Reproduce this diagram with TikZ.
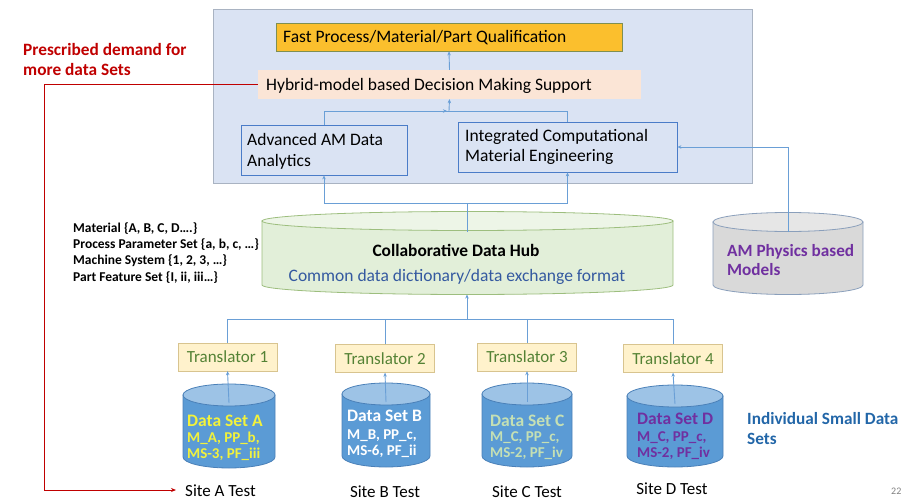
\documentclass[tikz,border=0pt]{standalone}
\usepackage{fontspec}
\setmainfont{Carlito}
\usetikzlibrary{arrows.meta}
\definecolor{bgblue}{HTML}{DAE3F3}
\definecolor{bgborder}{HTML}{A9B3C2}
\definecolor{conn}{HTML}{6A9FD6}
\definecolor{fastfill}{HTML}{FBBF2D}
\definecolor{fastborder}{HTML}{7F8F50}
\definecolor{hybfill}{HTML}{FBE5D6}
\definecolor{boxblue}{HTML}{4A7CC8}
\definecolor{trfill}{HTML}{FFF2CC}
\definecolor{trborder}{HTML}{D8C48F}
\definecolor{trtext}{HTML}{548235}
\definecolor{hubbody}{HTML}{E2EFD9}
\definecolor{hubtop}{HTML}{EDF5E7}
\definecolor{hubborder}{HTML}{9DBE7E}
\definecolor{hubblue}{HTML}{3459A0}
\definecolor{physbody}{HTML}{D9D9D9}
\definecolor{phystop}{HTML}{E6E6E6}
\definecolor{physborder}{HTML}{8A9FBB}
\definecolor{purp}{HTML}{7030A0}
\definecolor{dbody}{HTML}{5B9BD5}
\definecolor{dtop}{HTML}{9DC3E6}
\definecolor{dborder}{HTML}{4A80B8}
\definecolor{yel}{HTML}{F2F23C}
\definecolor{lgreen}{HTML}{C5E0B4}
\definecolor{redl}{HTML}{C00000}
\definecolor{indblue}{HTML}{2266A8}
\newcommand\mycyl[8]{%
  \filldraw[fill=#6,draw=#8,line width=0.8pt] (#1-#4,#2) -- (#1-#4,#3) arc[start angle=180,end angle=0,x radius=#4,y radius=#5] -- (#1+#4,#2) -- cycle;
  \filldraw[fill=#7,draw=#8,line width=0.8pt] (#1,#2) ellipse[x radius=#4,y radius=#5];
}
\tikzset{
  fs/.style={font=\fontsize{#1}{#1}\selectfont},
  cn/.style={draw=conn,line width=0.9pt},
  cna/.style={cn,-{Stealth[length=4pt,width=3.5pt]}},
  trbox/.style={draw=trborder,fill=trfill,minimum width=99pt,minimum height=28pt,inner sep=0pt,text=trtext,fs=17},
  plain/.style={inner sep=0pt,anchor=base west},
  sitelbl/.style={inner sep=0pt,anchor=base,fs=17},
}
\begin{document}
\begin{tikzpicture}[x=1pt,y=-1pt]
\useasboundingbox (0,0) rectangle (910,500);
% big background box
\fill[bgblue,draw=bgborder,line width=0.8pt] (213,9) rectangle (752,183);
% top boxes
\node[draw=fastborder,fill=fastfill,minimum width=346pt,minimum height=28pt,inner sep=0pt,line width=0.8pt] (fast) at (449,37) {};
\node[plain,fs=17.5] (fasttxt) at (283,43) {Fast Process/Material/Part Qualification};
\node[fill=hybfill,minimum width=383pt,minimum height=29pt,inner sep=0pt] (hyb) at (449.5,84.5) {};
\node[plain,fs=17.5] (hybtxt) at (266,90.5) {Hybrid-model based Decision Making Support};
\node[draw=boxblue,minimum width=166pt,minimum height=50pt,inner sep=0pt,line width=0.8pt] (adv) at (324,150) {};
\node[plain,align=left,font=\fontsize{17.5}{21}\selectfont] (advtxt) at (247,167) {Advanced AM Data\\Analytics};
\node[draw=boxblue,minimum width=219pt,minimum height=50pt,inner sep=0pt,line width=0.8pt] (icme) at (567.5,147) {};
\node[plain,align=left,font=\fontsize{17.5}{20}\selectfont] (icmetxt) at (465,161.5) {Integrated Computational\\Material Engineering};
% connectors in top area
\coordinate (merge) at (449,111);
\draw[cn] (adv.north) |- (merge);
\draw[cn] (icme.north) |- (merge);
\draw[cna] (merge) -- (hyb.south);
\draw[cna] (445,111) -- (447,111);
\draw[cna] (hyb.north) -- (fast.south);
% hub cylinder
\mycyl{467.5}{221}{285}{205.5}{9.5}{hubbody}{hubtop}{hubborder}
\node[inner sep=0pt,anchor=base,font=\bfseries\fontsize{17.4}{19}\selectfont] (hub) at (456,256) {Collaborative Data Hub};
\node[inner sep=0pt,anchor=base,fs=17.5,text=hubblue] (hubsub) at (457,281) {Common data dictionary/data exchange format};
\coordinate (hubtopc) at (467,232);
\coordinate (hubsplit) at (467,203);
\coordinate (hubbot) at (467,294.5);
\draw[cn] (hubtopc) -- (hubsplit);
\draw[cna] (hubsplit) -| (adv.south);
\draw[cna] (hubsplit) -| (icme.south);
% physics cylinder
\mycyl{788}{222}{285}{75}{9.5}{physbody}{phystop}{physborder}
\node[plain,align=left,text=purp,font=\bfseries\fontsize{17.2}{19}\selectfont] (phys) at (727,275) {AM Physics based\\Models};
\coordinate (phystopc) at (788,232);
\draw[cna] (phystopc) |- (icme.east);
% left list
\node[plain,align=left,font=\bfseries\fontsize{13.5}{16.3}\selectfont] (list) at (73,281) {Material \{A, B, C, D….\}\\Process Parameter Set \{a, b, c, …\}\\Machine System \{1, 2, 3, …\}\\Part Feature Set \{I, ii, iii…\}};
% translators
\node[trbox] (t1) at (227.5,357) {Translator 1};
\node[trbox] (t2) at (385,358.5) {Translator 2};
\node[trbox] (t3) at (527,357) {Translator 3};
\node[trbox] (t4) at (673,358.5) {Translator 4};
\coordinate (bus) at (467,319);
\draw[cn] (t1.north) |- (t4.north |- bus) -- (t4.north);
\draw[cn] (t2.north) -- (t2.north |- bus);
\draw[cn] (t3.north) -- (t3.north |- bus);
\draw[cna] (bus) -- (hubbot);
% data cylinders
\mycyl{229}{395}{457}{46}{11}{dbody}{dtop}{dborder}
\mycyl{386}{394}{456}{44}{11}{dbody}{dtop}{dborder}
\mycyl{527}{394}{456}{45}{11}{dbody}{dtop}{dborder}
\mycyl{675}{396}{456}{48}{11}{dbody}{dtop}{dborder}
\coordinate (ca) at (229,403);
\coordinate (cb) at (386,402);
\coordinate (cc) at (527,402);
\coordinate (cd) at (675,404);
\draw[cna] (ca) -- (t1.south);
\draw[cna] (cb) -- (t2.south);
\draw[cna] (cc) -- (t3.south);
\draw[cna] (cd) -- (t4.south);
\node[plain,text=yel,font=\bfseries\fontsize{17.5}{20}\selectfont] (da) at (187,426) {Data Set A};
\node[plain,align=left,text=yel,font=\bfseries\fontsize{15}{16}\selectfont] (dat) at (187,458) {M\_A, PP\_b,\\MS-3, PF\_iii};
\node[plain,text=white,font=\bfseries\fontsize{17.5}{20}\selectfont] (db) at (347,421) {Data Set B};
\node[plain,align=left,text=white,font=\bfseries\fontsize{15}{16}\selectfont] (dbt) at (347,455) {M\_B, PP\_c,\\MS-6, PF\_ii};
\node[plain,text=lgreen,font=\bfseries\fontsize{17.5}{20}\selectfont] (dc) at (490,426) {Data Set C};
\node[plain,align=left,text=lgreen,font=\bfseries\fontsize{15}{15.5}\selectfont] (dct) at (490,457) {M\_C, PP\_c,\\MS-2, PF\_iv};
\node[plain,text=purp,font=\bfseries\fontsize{17.5}{20}\selectfont] (dd) at (637,424) {Data Set D};
\node[plain,align=left,text=purp,font=\bfseries\fontsize{15}{15.5}\selectfont] (ddt) at (637,457) {M\_C, PP\_c,\\MS-2, PF\_iv};
\node[plain,align=left,text=indblue,font=\bfseries\fontsize{17.2}{20}\selectfont] (ind) at (747,444) {Individual Small Data\\Sets};
% site labels
\node[plain,fs=17] (sa) at (185,496) {Site A Test};
\node[sitelbl] (sb) at (385,497) {Site B Test};
\node[sitelbl] (sc) at (527,497) {Site C Test};
\node[sitelbl] (sd) at (672,494) {Site D Test};
\node[plain,text=gray,fs=10] (pg) at (891,494) {22};
% red feedback
\node[plain,align=left,text=redl,font=\bfseries\fontsize{17.3}{20}\selectfont] (presc) at (23,75.5) {Prescribed demand for\\more data Sets};
\coordinate (rc) at (44,490);
\draw[redl,line width=1pt] (hyb.west) -| (rc);
\draw[redl,line width=1pt,-{Stealth[length=5pt,width=4pt]}] (rc) -- (176,490);
\end{tikzpicture}
\end{document}
